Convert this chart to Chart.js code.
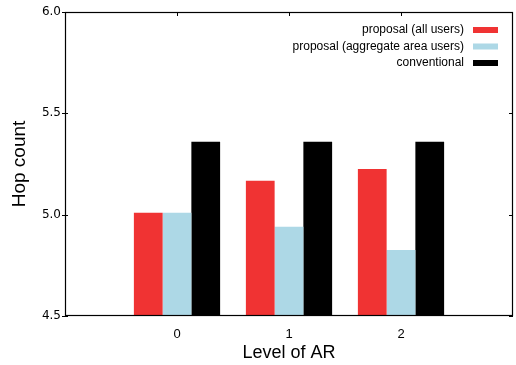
<!DOCTYPE html>
<html>
<head>
<meta charset="utf-8">
<script src="https://cdn.jsdelivr.net/npm/chart.js@4/dist/chart.umd.min.js"></script>
<style>
  html, body { margin: 0; padding: 0; background: #fff; }
  #wrap { width: 516px; height: 365px; }
</style>
</head>
<body>
<div id="wrap"><canvas id="c" width="516" height="365"></canvas></div>
<script>
// Hop count per level of aggregate routing (AR)
const levels = [0, 1, 2];
const seriesNames = ['proposal (all users)', 'proposal (aggregate area users)', 'conventional'];
const proposalAll = [5.01, 5.167, 5.225];
const proposalArea = [5.01, 4.94, 4.826];
const conventional = [5.36, 5.36, 5.36];
const yTicks = [4.5, 5.0, 5.5, 6.0];
const seriesColors = ['#f03333', '#add8e6', '#000000'];

const FONT = '"Liberation Sans", Arial, Helvetica, sans-serif';

const toPoints = vals => levels.map((x, i) => ({ x: x, y: vals[i] }));

// Frame with inward tick marks on all four sides
const framePlugin = {
  id: 'frame',
  afterDatasetsDraw(chart) {
    const { ctx, chartArea: a, scales } = chart;
    ctx.save();
    ctx.strokeStyle = '#000';
    ctx.lineWidth = 1.2;
    ctx.strokeRect(a.left + 0.5, a.top + 0.5, a.right - a.left - 1, a.bottom - a.top - 1);
    ctx.lineWidth = 1;
    ctx.beginPath();
    yTicks.forEach(v => {
      const y = Math.round(scales.y.getPixelForValue(v)) + 0.5;
      ctx.moveTo(a.left - 3, y); ctx.lineTo(a.left + 3, y);
      ctx.moveTo(a.right - 4, y); ctx.lineTo(a.right, y);
    });
    levels.forEach(v => {
      const x = Math.round(scales.x.getPixelForValue(v)) + 0.5;
      ctx.moveTo(x, a.top); ctx.lineTo(x, a.top + 4);
    });
    ctx.stroke();
    ctx.restore();
  }
};

// Legend inside the top-right corner: label then colour swatch
const legendPlugin = {
  id: 'insideLegend',
  afterDraw(chart) {
    const { ctx, chartArea: a } = chart;
    ctx.save();
    ctx.font = '12px ' + FONT;
    ctx.textAlign = 'right';
    ctx.textBaseline = 'middle';
    chart.data.datasets.forEach((ds, i) => {
      const y = a.top + 18 + i * 16.5;
      ctx.fillStyle = '#000';
      ctx.fillText(ds.label, a.right - 49, y);
      ctx.fillStyle = ds.backgroundColor;
      ctx.fillRect(a.right - 40, y - 3, 25, 6);
    });
    ctx.restore();
  }
};

new Chart(document.getElementById('c'), {
  type: 'bar',
  data: {
    datasets: [
      { label: seriesNames[0], data: toPoints(proposalAll), backgroundColor: seriesColors[0] },
      { label: seriesNames[1], data: toPoints(proposalArea), backgroundColor: seriesColors[1] },
      { label: seriesNames[2], data: toPoints(conventional), backgroundColor: seriesColors[2] }
    ]
  },
  options: {
    responsive: false,
    animation: false,
    devicePixelRatio: 1,
    layout: { padding: { top: 12, right: 3, left: 0, bottom: 0 } },
    datasets: { bar: { categoryPercentage: 0.77, barPercentage: 1.0, borderWidth: 0 } },
    plugins: { legend: { display: false }, tooltip: { enabled: false } },
    scales: {
      x: {
        type: 'linear',
        offset: false,
        min: -1, max: 3,
        grid: { display: false, drawTicks: false, offset: false },
        border: { display: false },
        ticks: {
          stepSize: 1,
          padding: 11,
          color: '#000',
          font: { family: FONT, size: 13 },
          callback: v => levels.includes(v) ? String(v) : ''
        },
        title: {
          display: true, text: 'Level of AR', color: '#000',
          font: { family: FONT, size: 18 },
          padding: { top: 0, bottom: 1 }
        },
        afterFit: s => { s.height = 49; s.paddingLeft = 0; s.paddingRight = 0; }
      },
      y: {
        min: 4.5, max: 6.0,
        grid: { display: false, drawTicks: false },
        border: { display: false },
        afterBuildTicks: s => { s.ticks = yTicks.map(v => ({ value: v })); },
        ticks: {
          padding: 4,
          color: '#000',
          font: { family: '"DejaVu Sans", sans-serif', size: 12 },
          callback: v => Number(v).toFixed(1)
        },
        title: {
          display: true, text: 'Hop count', color: '#000',
          font: { family: FONT, size: 19 },
          padding: { top: 8, bottom: 0 }
        },
        afterFit: s => { s.width = 65; s.paddingTop = 0; s.paddingBottom = 0; }
      }
    }
  },
  plugins: [framePlugin, legendPlugin]
});
</script>
</body>
</html>
